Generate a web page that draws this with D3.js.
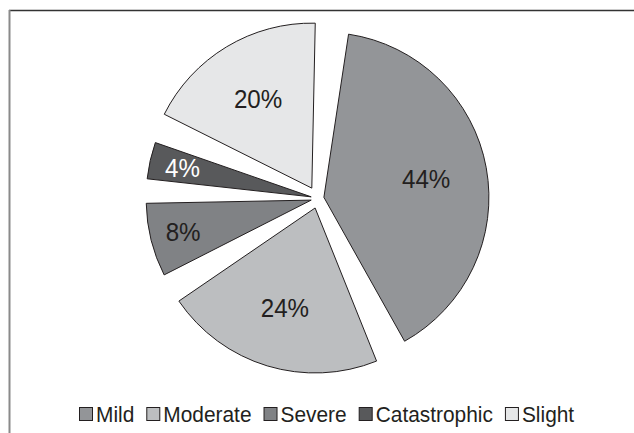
<!DOCTYPE html>
<html>
<head>
<meta charset="utf-8">
<script src="https://cdn.jsdelivr.net/npm/d3@7"></script>
<style>
  html, body { margin: 0; padding: 0; background: #fff; }
  svg { display: block; font-family: "Liberation Sans", Arial, sans-serif; }
</style>
</head>
<body>
<svg id="chart" width="634" height="433"></svg>
<script>
// ---- data ----
const categories = ["Mild", "Moderate", "Severe", "Catastrophic", "Slight"];
const values = [44, 24, 8, 4, 20];
const valueLabels = ["44%", "24%", "8%", "4%", "20%"];

// ---- styles ----
const fills = ["#939598", "#bcbec0", "#808285", "#58595b", "#e6e7e8"];
const labelColors = ["#231f20", "#231f20", "#231f20", "#ffffff", "#231f20"];
const explodeBy = [6, 10, 7, 7, 12];

const W = 634, H = 433;
const cx = 318, cy = 198.4, R = 165;
const deg = Math.PI / 180;
const pad = 7.4 * deg;
const start = 4.9 * deg;

const svg = d3.select("#chart");

// frame
svg.append("line").attr("x1", 9).attr("x2", W).attr("y1", 10.5).attr("y2", 10.5)
  .attr("stroke", "#333").attr("stroke-width", 1.5);
svg.append("line").attr("x1", 9.5).attr("x2", 9.5).attr("y1", 10).attr("y2", H)
  .attr("stroke", "#8a8a8a").attr("stroke-width", 2);

const pie = d3.pie().sort(null).padAngle(pad).startAngle(start).endAngle(start + 2 * Math.PI);
const arcs = pie(values);
const arc = d3.arc().innerRadius(0).outerRadius(R);

const g = svg.append("g").attr("transform", `translate(${cx},${cy})`);

const slices = g.selectAll("g.slice").data(arcs).enter().append("g")
  .attr("class", "slice")
  .attr("transform", (d, i) => {
    const m = (d.startAngle + d.endAngle) / 2;
    const e = explodeBy[i];
    return `translate(${e * Math.sin(m)},${-e * Math.cos(m)})`;
  });

slices.append("path")
  .attr("d", arc)
  .attr("fill", (d, i) => fills[i])
  .attr("stroke", "#231f20")
  .attr("stroke-width", 1);

slices.append("text")
  .attr("transform", d => {
    const m = (d.startAngle + d.endAngle) / 2;
    const span = d.endAngle - d.startAngle;
    const rl = R * (span < 40 * deg ? 0.8 : 0.63);
    return `translate(${rl * Math.sin(m)},${-rl * Math.cos(m)}) scale(0.93,1)`;
  })
  .attr("text-anchor", "middle")
  .attr("dy", "0.36em")
  .attr("font-size", 26)
  .attr("fill", (d, i) => labelColors[i])
  .text((d, i) => valueLabels[i]);

// legend
const legend = svg.append("g");
let x = 79;
const sq = 14, baseline = 422, sx = 0.95;
categories.forEach((c, i) => {
  legend.append("rect")
    .attr("x", x + 0.5).attr("y", baseline - 14.5)
    .attr("width", sq - 1).attr("height", sq - 1)
    .attr("fill", fills[i]).attr("stroke", "#231f20").attr("stroke-width", 1);
  const t = legend.append("text")
    .attr("transform", `translate(${x + sq + 3},${baseline}) scale(${sx},1)`)
    .attr("font-size", 22).attr("fill", "#231f20")
    .text(c);
  x += sq + 3 + t.node().getComputedTextLength() * sx + 12;
});
</script>
</body>
</html>
